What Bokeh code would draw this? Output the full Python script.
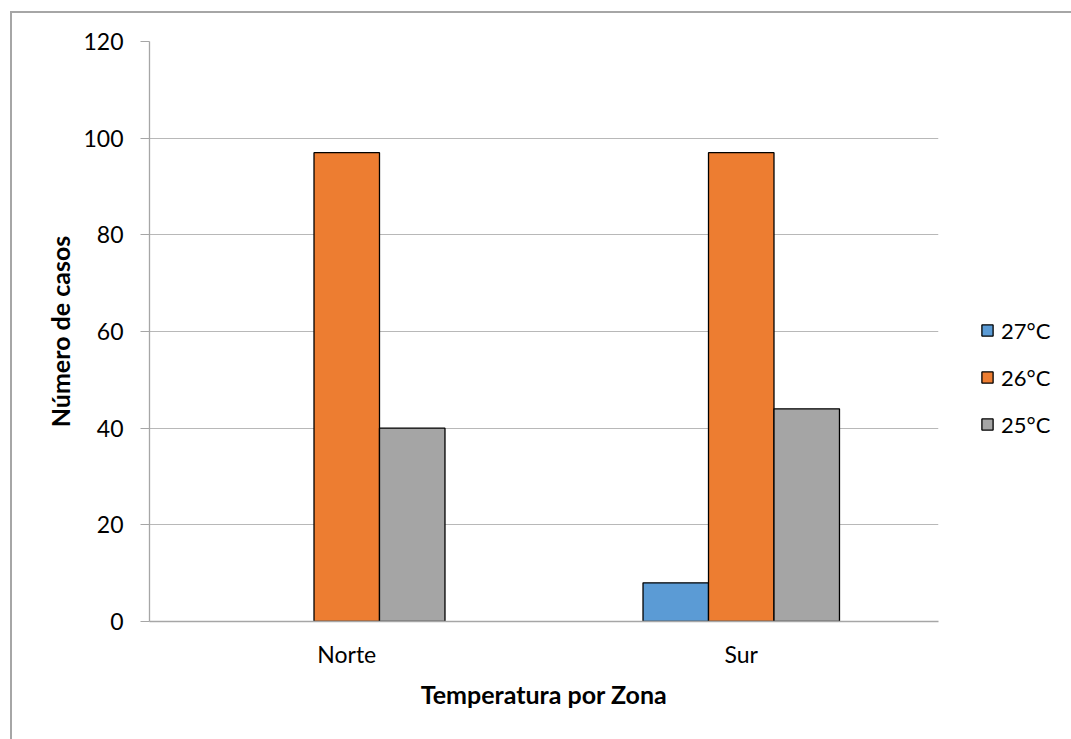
from bokeh.plotting import figure
from bokeh.layouts import row
from bokeh.models import (ColumnDataSource, FactorRange, Legend, LegendItem,
                          CDSView, BooleanFilter, InlineStyleSheet, SingleIntervalTicker)
from bokeh.transform import dodge
from bokeh.embed import file_html
from bokeh.resources import INLINE

zones = ["Norte", "Sur"]
series_names = ["27°C", "26°C", "25°C"]
v27 = [0, 8]
v26 = [97, 97]
v25 = [40, 44]
colors = ["#5B9BD5", "#ED7D31", "#A5A5A5"]

FONT = "Lato"
H = 726

src = ColumnDataSource(data=dict(zone=zones, v27=v27, v26=v26, v25=v25))

p = figure(x_range=FactorRange(*zones), y_range=(0, 120),
           width=931, height=H, output_backend="svg", toolbar_location=None,
           min_border_left=137, min_border_right=5, min_border_top=28, min_border_bottom=118)
p.x_range.range_padding = 0
p.outline_line_color = None
p.background_fill_color = "white"
p.border_fill_color = "white"

offsets = [-0.166, 0.0, 0.166]
keys = ["v27", "v26", "v25"]
renderers = []
for key, off, col in zip(keys, offsets, colors):
    view = CDSView(filter=BooleanFilter([v > 0 for v in src.data[key]]))
    r = p.vbar(x=dodge("zone", off, range=p.x_range), top=key, width=0.166, source=src, view=view,
               fill_color=col, line_color="black", line_width=1.3)
    renderers.append(r)

p.xgrid.grid_line_color = None
p.ygrid.grid_line_color = "#b8b8b8"
p.ygrid.grid_line_width = 1
p.yaxis.ticker = SingleIntervalTicker(interval=20)

for ax in (p.xaxis[0], p.yaxis[0]):
    ax.axis_line_color = "#a6a6a6"
    ax.axis_line_width = 1.3
    ax.major_tick_line_color = "#a6a6a6"
    ax.minor_tick_line_color = None
    ax.major_label_text_font = FONT
    ax.major_label_text_font_size = "23px"
    ax.major_label_text_color = "black"
    ax.axis_label_text_font = FONT
    ax.axis_label_text_font_style = "bold"
    ax.axis_label_text_font_size = "25px"
    ax.axis_label_text_color = "black"

p.yaxis.major_tick_out = 9
p.yaxis.major_tick_in = 0
p.yaxis.major_label_standoff = 17
p.yaxis.axis_label = "Número de casos"
p.yaxis.axis_label_standoff = 5

p.xaxis.major_tick_out = 0
p.xaxis.major_tick_in = 0
p.xaxis.major_label_standoff = 18
p.xaxis.axis_label = "Temperatura por Zona"
p.xaxis.axis_label_standoff = 8

# legend panel: a separate canvas right of the plot area. Its x range holds no
# zone factor, so its bars map nowhere and only the legend entries show.
leg = figure(x_range=FactorRange("·"), y_range=(0, 120), width=140, height=H,
             output_backend="svg", toolbar_location=None, x_axis_type=None, y_axis_type=None,
             min_border_left=0, min_border_right=0, min_border_top=0, min_border_bottom=0)
leg.outline_line_color = None
leg.grid.visible = False
leg.background_fill_color = "white"
leg.border_fill_color = "white"
leg_renderers = []
for key, col in zip(keys, colors):
    r = leg.vbar(x="zone", top=key, width=0.166, source=src,
                 fill_color=col, line_color="black", line_width=1.3)
    leg_renderers.append(r)

legend = Legend(items=[LegendItem(label=n, renderers=[r]) for n, r in zip(series_names, leg_renderers)],
                location=(37, 182), orientation="vertical",
                glyph_width=14, glyph_height=14, label_height=30, spacing=17,
                label_standoff=7, padding=0, margin=0, border_line_color=None,
                background_fill_alpha=0,
                label_text_font=FONT, label_text_font_size="22px", label_text_color="black")
leg.add_layout(legend, "center")

layout = row(p, leg, spacing=0)
layout.stylesheets = [InlineStyleSheet(css=":host { border-left: 2px solid #a6a6a6; border-top: 2px solid #a6a6a6; border-right: none; border-bottom: none; margin-left: 10px; margin-top: 11px; }")]

html = file_html(layout, INLINE)
html = html.replace("</head>", "<style>html, body { overflow: hidden !important; }</style></head>", 1)
open("out.html", "w").write(html)
